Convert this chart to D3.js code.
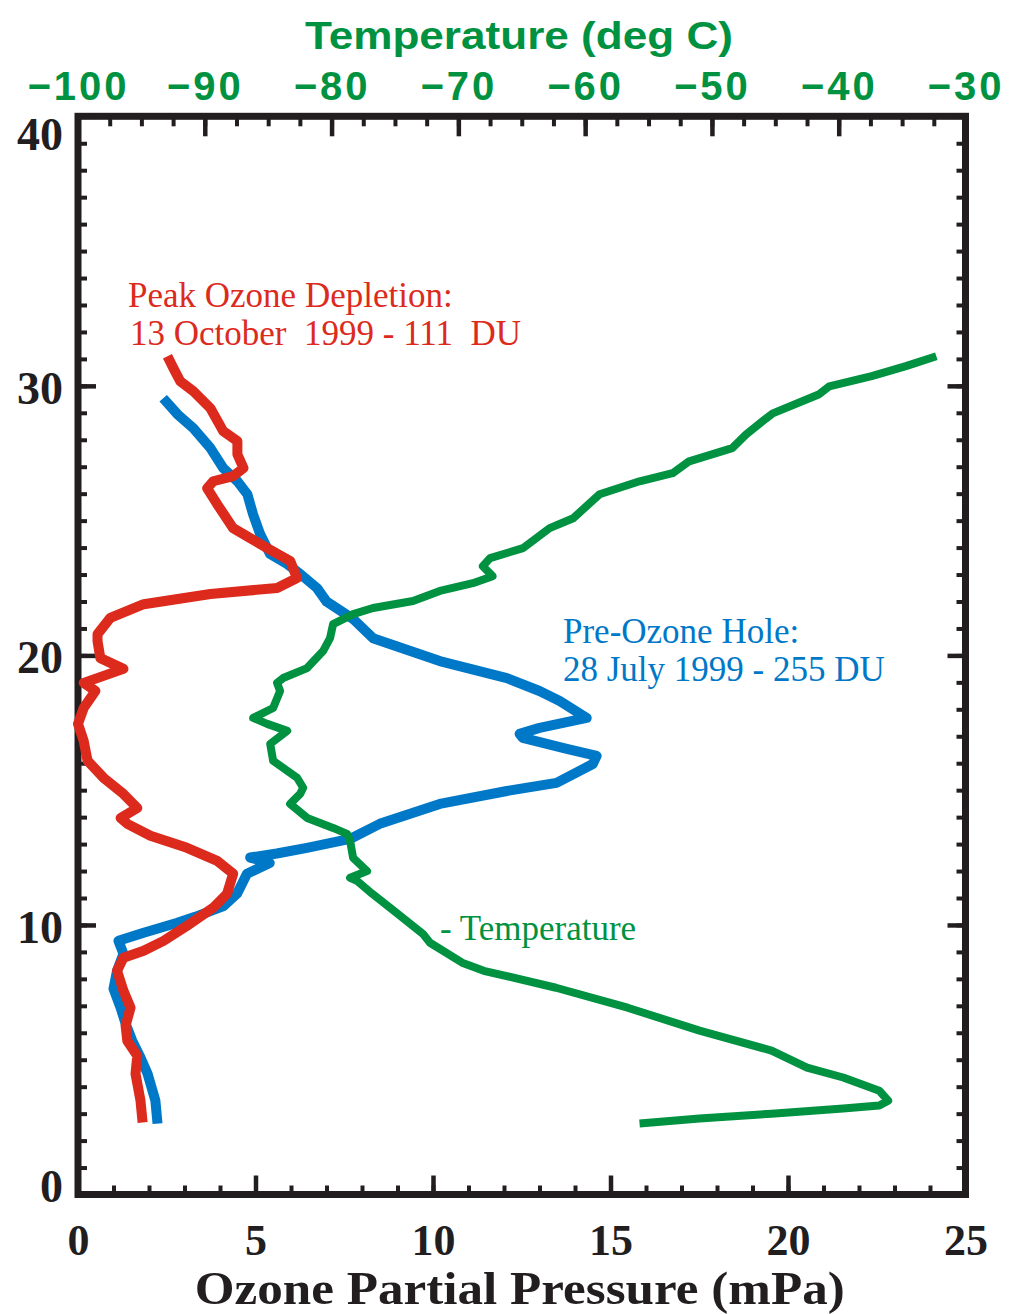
<!DOCTYPE html>
<html>
<head>
<meta charset="utf-8">
<script src="https://cdn.jsdelivr.net/npm/d3@7"></script>
<style>
  html, body { margin: 0; padding: 0; background: #ffffff; }
  svg { display: block; }
</style>
</head>
<body>
<svg id="chart" width="1009" height="1314"></svg>
<script>
// Ozonesonde profiles, South Pole 1999: altitude (km) vs ozone partial pressure (mPa)
const preHoleAlt = [2.63,3.48,4.48,5.08,5.7,6.34,6.93,7.63,8.3,8.93,9.41,9.71,10.08,10.3,10.7,11.16,11.9,12.3,12.5,12.65,12.86,13.19,13.75,14.49,14.97,15.27,15.97,16.27,16.53,16.94,17.09,17.31,17.68,18.31,18.68,19.16,19.79,20.64,21.35,22.0,22.5,23.02,23.39,23.76,24.5,25.24,25.98,26.46,26.95,27.69,28.43,28.95,29.54];
const preHoleO3  = [2.24,2.18,1.96,1.76,1.53,1.34,1.2,1.0,1.1,1.28,1.14,1.85,2.8,3.3,4.1,4.48,4.76,5.4,4.85,5.6,6.45,7.66,8.5,10.19,12.08,13.48,14.5,14.61,13.77,12.53,12.44,13.0,14.33,13.57,13.0,12.08,10.19,8.31,7.75,7.0,6.73,6.26,5.89,5.41,5.13,4.93,4.77,4.49,4.09,3.73,3.25,2.8,2.4];

const peakAlt = [2.67,3.48,4.48,5.15,5.7,6.26,6.93,7.56,8.3,8.78,9.04,9.41,9.97,10.64,11.16,11.9,12.38,12.86,13.31,13.75,13.97,14.34,14.86,15.46,16.09,16.83,17.46,18.05,18.68,18.98,19.5,19.9,20.53,20.79,21.39,21.9,22.28,22.5,22.87,23.5,23.98,24.35,24.72,25.61,26.2,26.46,26.65,26.95,27.46,27.95,28.32,29.17,29.8,30.17,30.65,31.1];
const peakO3  = [1.82,1.76,1.62,1.67,1.39,1.34,1.48,1.28,1.1,1.28,1.85,2.41,3.07,3.81,4.2,4.37,3.92,3.07,2.04,1.39,1.2,1.67,1.28,0.72,0.27,0.16,0.0,0.16,0.49,0.16,1.28,0.63,0.55,0.55,0.91,1.85,3.73,5.61,6.17,5.98,5.33,4.85,4.37,3.92,3.64,3.81,4.37,4.66,4.49,4.49,4.09,3.73,3.25,2.88,2.69,2.52];

// Temperature profile (deg C) of the same sounding
const tempAlt = [2.63,2.82,3.0,3.19,3.3,3.48,3.85,4.34,4.71,5.34,6.08,6.93,7.67,8.3,8.6,9.34,9.67,10.53,11.16,11.64,11.75,12.0,12.49,13.12,13.38,13.6,13.97,14.49,14.86,15.09,15.46,16.09,16.72,17.2,17.46,17.68,18.05,18.68,18.98,19.16,19.53,20.16,20.64,21.16,21.53,21.76,22.02,22.39,22.68,22.94,23.31,23.61,23.98,24.72,25.09,25.98,26.46,26.76,27.2,27.69,28.2,28.69,28.98,29.69,29.98,30.36,30.73,31.1];
const tempC   = [-55.71,-50.98,-45.3,-39.65,-36.8,-36.1,-36.8,-39.65,-42.5,-45.3,-50.98,-56.65,-62.3,-68.0,-69.7,-72.24,-72.8,-75.1,-76.8,-78.0,-78.54,-77.2,-78.3,-78.54,-78.78,-79.88,-81.93,-83.27,-82.48,-82.24,-82.72,-84.61,-84.84,-83.5,-85.08,-86.18,-84.61,-84.06,-84.3,-83.82,-81.93,-80.67,-80.12,-79.88,-78.3,-76.73,-73.58,-71.46,-68.86,-67.3,-68.07,-67.5,-64.9,-62.8,-60.94,-58.86,-55.71,-53.1,-51.8,-48.4,-47.3,-46.0,-45.2,-41.54,-40.75,-37.4,-34.7,-32.3];

// Axis ticks and labels
const ozoneTicks = [0, 5, 10, 15, 20, 25];
const altTicks = [0, 10, 20, 30, 40];
const tempTicks = [-100, -90, -80, -70, -60, -50, -40, -30];
const xTitle = "Ozone Partial Pressure (mPa)";
const topTitle = "Temperature (deg C)";
const notes = [
  {lines: ["Peak Ozone Depletion:", "13 October  1999 - 111  DU"], color: "red"},
  {lines: ["Pre-Ozone Hole:", "28 July 1999 - 255 DU"], color: "blue"},
  {lines: ["- Temperature"], color: "green"}
];

const COLORS = { red: "#dc2a1d", blue: "#0078c8", green: "#009241", ink: "#221e1f" };

const svg = d3.select("#chart");
const L = 78, R = 965.5, T = 116.3, B = 1194.5;

const x = d3.scaleLinear().domain([0, 25]).range([L, R]);
const xT = d3.scaleLinear().domain([-100, -30]).range([L, R]);
const y = d3.scaleLinear().domain([0, 40]).range([B, T]);

const serifBold = "'Liberation Serif', 'Times New Roman', serif";
const sansBold = "'Liberation Sans', Arial, Helvetica, sans-serif";

function styleAxis(g, major) {
  g.select(".domain").remove();
  g.selectAll(".tick line").attr("stroke", COLORS.ink).attr("stroke-width", major ? 4.5 : 4);
}

// minor ticks (inward)
svg.append("g").attr("transform", `translate(0,${B})`)
  .call(d3.axisBottom(x).tickValues(d3.range(0, 26, 1)).tickSize(-9).tickFormat(""))
  .call(g => styleAxis(g, false));
svg.append("g").attr("transform", `translate(${L},0)`)
  .call(d3.axisLeft(y).tickValues(d3.range(0, 41, 1)).tickSize(-9).tickFormat(""))
  .call(g => styleAxis(g, false));
svg.append("g").attr("transform", `translate(${R},0)`)
  .call(d3.axisRight(y).tickValues(d3.range(0, 41, 1)).tickSize(-9).tickFormat(""))
  .call(g => styleAxis(g, false));
svg.append("g").attr("transform", `translate(0,${T})`)
  .call(d3.axisTop(xT).tickValues(d3.range(-100, -29, 2.5)).tickSize(-10).tickFormat(""))
  .call(g => styleAxis(g, false));

// major ticks with labels
const gx = svg.append("g").attr("transform", `translate(0,${B})`)
  .call(d3.axisBottom(x).tickValues(ozoneTicks).tickSize(-19).tickPadding(38).tickFormat(d3.format("d")))
  .call(g => styleAxis(g, true));
gx.selectAll(".tick text")
  .attr("font-family", serifBold).attr("font-weight", "bold").attr("font-size", 44)
  .attr("fill", COLORS.ink).attr("dy", "0.5em");

const gy = svg.append("g").attr("transform", `translate(${L},0)`)
  .call(d3.axisLeft(y).tickValues(altTicks).tickSize(-18).tickPadding(15).tickFormat(d3.format("d")))
  .call(g => styleAxis(g, true));
gy.selectAll(".tick text")
  .attr("font-family", serifBold).attr("font-weight", "bold").attr("font-size", 46)
  .attr("fill", COLORS.ink)
  .attr("dy", d => d === 40 ? "0.72em" : d === 0 ? "0.16em" : "0.38em");

svg.append("g").attr("transform", `translate(${R},0)`)
  .call(d3.axisRight(y).tickValues(altTicks).tickSize(-18).tickFormat(""))
  .call(g => styleAxis(g, true));

const gt = svg.append("g").attr("transform", `translate(0,${T})`)
  .call(d3.axisTop(xT).tickValues(tempTicks).tickSize(-20).tickPadding(16)
    .tickFormat(d => "\u2212" + Math.abs(d)))
  .call(g => styleAxis(g, true));
gt.selectAll(".tick text")
  .attr("font-family", sansBold).attr("font-weight", "bold").attr("font-size", 40)
  .attr("letter-spacing", 3).attr("fill", COLORS.green);

// frame
svg.append("rect")
  .attr("x", L).attr("y", T).attr("width", R - L).attr("height", B - T)
  .attr("fill", "none").attr("stroke", COLORS.ink).attr("stroke-width", 7);

// axis titles
svg.append("text")
  .attr("x", (L + R) / 2 - 2).attr("y", 1304)
  .attr("text-anchor", "middle")
  .attr("font-family", serifBold).attr("font-weight", "bold").attr("font-size", 46)
  .attr("textLength", 650).attr("lengthAdjust", "spacingAndGlyphs")
  .attr("fill", COLORS.ink).text(xTitle);

svg.append("text")
  .attr("x", 519).attr("y", 49)
  .attr("text-anchor", "middle")
  .attr("font-family", sansBold).attr("font-weight", "bold").attr("font-size", 39)
  .attr("textLength", 428).attr("lengthAdjust", "spacingAndGlyphs")
  .attr("fill", COLORS.green).text(topTitle);

// profiles
const plot = svg.append("g");
const ozoneLine = d3.line().x(d => x(d[1])).y(d => y(d[0]));
const tempLine = d3.line().x(d => xT(d[1])).y(d => y(d[0]));

plot.append("path")
  .datum(d3.zip(preHoleAlt, preHoleO3))
  .attr("d", ozoneLine)
  .attr("fill", "none").attr("stroke", COLORS.blue).attr("stroke-width", 10)
  .attr("stroke-linejoin", "round");

plot.append("path")
  .datum(d3.zip(peakAlt, peakO3))
  .attr("d", ozoneLine)
  .attr("fill", "none").attr("stroke", COLORS.red).attr("stroke-width", 10)
  .attr("stroke-linejoin", "round");

plot.append("path")
  .datum(d3.zip(tempAlt, tempC))
  .attr("d", tempLine)
  .attr("fill", "none").attr("stroke", COLORS.green).attr("stroke-width", 8)
  .attr("stroke-linejoin", "round");

// annotations
const notePos = [
  {x: 128, y: 307},
  {x: 563, y: 643},
  {x: 440, y: 940}
];
notes.forEach((n, i) => {
  const t = svg.append("text")
    .attr("font-family", "'Liberation Serif', 'Times New Roman', serif")
    .attr("font-size", 35)
    .attr("fill", COLORS[n.color])
    .style("white-space", "pre");
  n.lines.forEach((line, j) => {
    t.append("tspan")
      .attr("x", notePos[i].x + (j > 0 && i === 0 ? 2 : 0))
      .attr("y", notePos[i].y + j * 38)
      .text(line);
  });
});
</script>
</body>
</html>
